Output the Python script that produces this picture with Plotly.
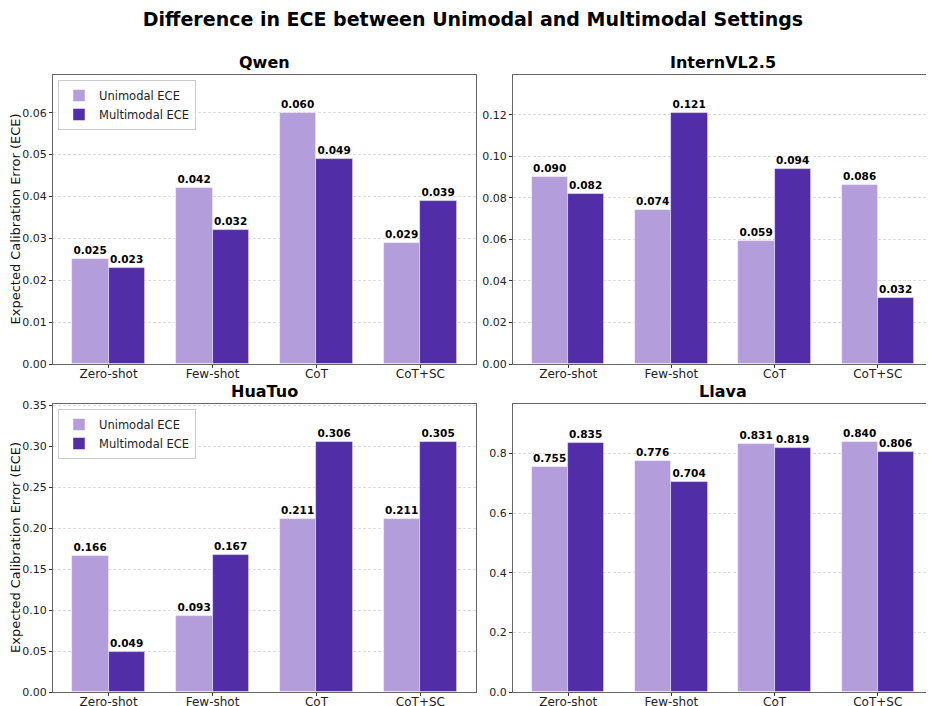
import plotly.graph_objects as go

categories = ["Zero-shot", "Few-shot", "CoT", "CoT+SC"]
models = ["Qwen", "InternVL2.5", "HuaTuo", "Llava"]

qwen_uni = [0.025, 0.042, 0.060, 0.029]
qwen_multi = [0.023, 0.032, 0.049, 0.039]
intern_uni = [0.090, 0.074, 0.059, 0.086]
intern_multi = [0.082, 0.121, 0.094, 0.032]
huatuo_uni = [0.166, 0.093, 0.211, 0.211]
huatuo_multi = [0.049, 0.167, 0.306, 0.305]
llava_uni = [0.755, 0.776, 0.831, 0.840]
llava_multi = [0.835, 0.704, 0.819, 0.806]

uni_series = [qwen_uni, intern_uni, huatuo_uni, llava_uni]
multi_series = [qwen_multi, intern_multi, huatuo_multi, llava_multi]
dticks = [0.01, 0.02, 0.05, 0.2]
tickfmts = [".2f", ".2f", ".2f", ".1f"]

LIGHT = "#b39ddb"
DARK = "#512da8"
OFF = 8  # default page body margin
W, H = 934 - OFF, 706 - OFF
FONT = "DejaVu Sans"


def px(x):
    return (x - OFF) / W


def py(y):
    return 1 - (y - OFF) / H


# plot-area boxes in page pixels: (left, right, top, bottom)
boxes = [(53, 476, 75, 364), (513, 933, 75, 364), (53, 476, 404, 692), (513, 933, 404, 692)]

fig = go.Figure()
annotations = []
x_idx = list(range(len(categories)))
bw = 0.35

for i in range(4):
    ax = "" if i == 0 else str(i + 1)
    xref, yref = "x" + ax, "y" + ax
    uni, multi = uni_series[i], multi_series[i]
    leg = "legend2" if i == 2 else "legend"
    show = i in (0, 2)
    for vals, name, col, off in [(uni, "Unimodal ECE", LIGHT, -bw / 2), (multi, "Multimodal ECE", DARK, bw / 2)]:
        fig.add_trace(go.Bar(
            x=[v + off for v in x_idx], y=vals, width=bw, name=name,
            marker=dict(color=col, line=dict(color="rgba(255,255,255,0.6)", width=0.8)),
            text=[f"<b>{v:.3f}</b>" for v in vals], textposition="outside",
            textfont=dict(size=10.5, color="black", family=FONT),
            cliponaxis=False, showlegend=show, legend=leg,
            xaxis=xref, yaxis=yref,
        ))
    l, r, t, b = boxes[i]
    ymax = max(max(uni), max(multi)) * 1.15
    xa = dict(domain=[px(l), min(px(r), 1)], range=[-0.535, 3.535], tickmode="array",
              tickvals=x_idx, ticktext=categories, showgrid=False, zeroline=False,
              showline=True, mirror=True, linecolor="#666", linewidth=1,
              ticks="outside", ticklen=3, tickcolor="#333", automargin=False,
              ticklabelstandoff=-4,
              tickfont=dict(size=12, color="#222", family=FONT), anchor=yref)
    ya = dict(domain=[py(b), py(t)], range=[0, ymax], dtick=dticks[i], tick0=0,
              tickformat=tickfmts[i], showgrid=True, gridcolor="#dddddd", griddash="3px,2px",
              gridwidth=0.8, zeroline=False, showline=True, mirror=True, linecolor="#666",
              linewidth=1, ticks="outside", ticklen=3, tickcolor="#333", automargin=False,
              tickfont=dict(size=11, color="#222", family=FONT), anchor=xref)
    fig.layout["xaxis" + ax] = xa
    fig.layout["yaxis" + ax] = ya
    annotations.append(dict(text=f"<b>{models[i]}</b>", x=px((l + r) / 2), y=py(t - 1),
                            xref="paper", yref="paper", xanchor="center", yanchor="bottom",
                            showarrow=False, font=dict(size=16, color="black", family=FONT)))
    if i in (0, 2):
        annotations.append(dict(text="Expected Calibration Error (ECE)", x=px(15), y=py((t + b) / 2),
                                xref="paper", yref="paper", xanchor="center", yanchor="middle",
                                textangle=-90, showarrow=False,
                                font=dict(size=13, color="#111", family=FONT)))

legend_style = dict(xanchor="left", yanchor="top", bgcolor="rgba(255,255,255,0.85)",
                    bordercolor="#cccccc", borderwidth=1, font=dict(size=11.5, color="#222", family=FONT),
                    tracegroupgap=0, itemwidth=30)

fig.update_layout(
    width=W, height=H, margin=dict(l=0, r=0, t=0, b=0, autoexpand=False),
    paper_bgcolor="white", plot_bgcolor="white",
    barmode="overlay", bargap=0,
    title=dict(text="<b>Difference in ECE between Unimodal and Multimodal Settings</b>",
               x=px(473), xanchor="center", y=py(19), yanchor="middle",
               font=dict(size=19, color="black", family=FONT)),
    annotations=annotations,
    legend=dict(x=px(58), y=py(80), **legend_style),
    legend2=dict(x=px(58), y=py(409), **legend_style),
    font=dict(family=FONT),
)

fig.write_html("out.html")
